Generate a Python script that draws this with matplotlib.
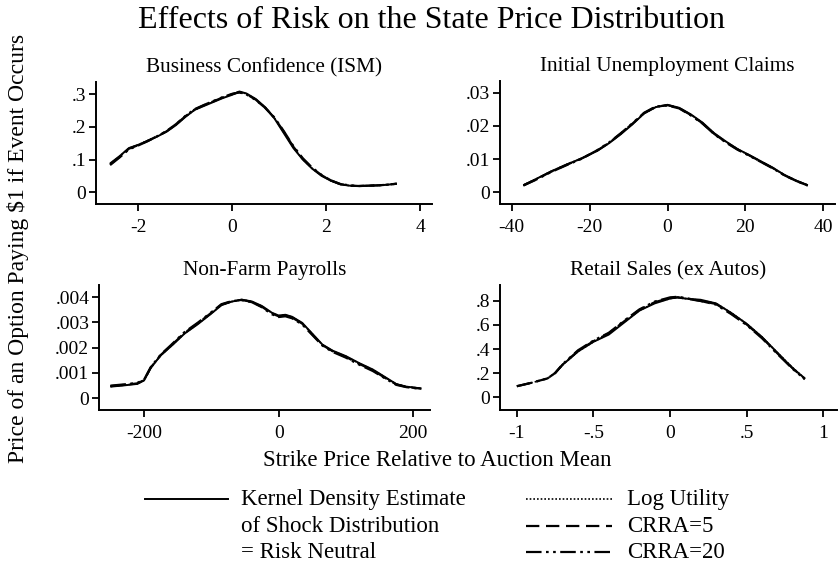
import matplotlib
matplotlib.use("Agg")
import matplotlib.pyplot as plt
import numpy as np
from matplotlib.lines import Line2D

plt.rcParams["font.family"] = ["Liberation Serif", "DejaVu Serif"]

W, H = 840, 568

# Business Confidence (ISM)
ism_x = [-2.6, -2.4, -2.2, -2.0, -1.8, -1.6, -1.4, -1.2, -1.0, -0.8, -0.6, -0.4, -0.2, 0.0,
         0.15, 0.3, 0.5, 0.7, 0.9, 1.1, 1.3, 1.5, 1.7, 1.9, 2.1, 2.3, 2.5, 2.7, 2.9, 3.1, 3.3, 3.5]
ism_rn = [0.088, 0.11, 0.135, 0.145, 0.157, 0.17, 0.185, 0.205, 0.23, 0.252, 0.264, 0.276, 0.288, 0.298,
          0.308, 0.302, 0.285, 0.26, 0.225, 0.18, 0.135, 0.1, 0.072, 0.05, 0.035, 0.024, 0.02, 0.019, 0.02, 0.021, 0.023, 0.026]
ism_log = [0.086, 0.109, 0.134, 0.145, 0.158, 0.171, 0.186, 0.206, 0.231, 0.252, 0.265, 0.277, 0.289, 0.299,
           0.307, 0.301, 0.284, 0.259, 0.226, 0.182, 0.137, 0.101, 0.073, 0.051, 0.035, 0.024, 0.02, 0.019, 0.02, 0.021, 0.023, 0.026]
ism_crra5 = [0.085, 0.108, 0.133, 0.144, 0.157, 0.171, 0.186, 0.207, 0.232, 0.253, 0.266, 0.278, 0.29, 0.3,
             0.306, 0.3, 0.283, 0.258, 0.227, 0.184, 0.139, 0.102, 0.074, 0.052, 0.036, 0.025, 0.02, 0.019, 0.02, 0.021, 0.023, 0.026]
ism_crra20 = [0.083, 0.106, 0.131, 0.143, 0.156, 0.171, 0.187, 0.208, 0.233, 0.254, 0.267, 0.279, 0.291, 0.301,
              0.305, 0.299, 0.282, 0.258, 0.228, 0.186, 0.141, 0.104, 0.075, 0.053, 0.036, 0.025, 0.021, 0.019, 0.02, 0.021, 0.023, 0.026]

# Initial Unemployment Claims
ic_x = [-37, -34, -30, -26, -22, -18, -15, -12, -9, -6, -3, 0, 3, 6, 9, 12, 15, 18, 21, 24, 27, 30, 33, 36]
ic_rn = [0.0021, 0.0038, 0.0062, 0.0083, 0.0102, 0.0125, 0.0148, 0.0175, 0.0205, 0.0238, 0.0257, 0.0264,
         0.0255, 0.0235, 0.021, 0.0178, 0.0153, 0.013, 0.0112, 0.0093, 0.0074, 0.0052, 0.0035, 0.0021]
ic_log = [0.0021, 0.0038, 0.0062, 0.0083, 0.0102, 0.0126, 0.0149, 0.0176, 0.0206, 0.0238, 0.0257, 0.0263,
          0.0254, 0.0234, 0.0209, 0.0177, 0.0152, 0.013, 0.0111, 0.0092, 0.0073, 0.0052, 0.0035, 0.0021]
ic_crra5 = [0.002, 0.0037, 0.0061, 0.0082, 0.0102, 0.0126, 0.0149, 0.0177, 0.0207, 0.0239, 0.0258, 0.0263,
            0.0254, 0.0233, 0.0208, 0.0176, 0.0151, 0.0129, 0.0111, 0.0092, 0.0073, 0.0051, 0.0034, 0.002]
ic_crra20 = [0.002, 0.0036, 0.006, 0.0081, 0.0101, 0.0127, 0.015, 0.0178, 0.0208, 0.024, 0.0259, 0.0262,
             0.0253, 0.0232, 0.0207, 0.0175, 0.015, 0.0128, 0.011, 0.0091, 0.0072, 0.0051, 0.0034, 0.002]

# Non-Farm Payrolls
nfp_x = [-250, -230, -210, -200, -190, -175, -160, -140, -120, -100, -85, -70, -55, -40, -25, -10, 0, 10,
         20, 35, 50, 65, 80, 100, 120, 140, 160, 175, 190, 212]
nfp_rn = [0.00045, 0.0005, 0.00056, 0.0007, 0.0012, 0.0017, 0.00205, 0.00255, 0.00293, 0.00335, 0.00368,
          0.00382, 0.0039, 0.00383, 0.00365, 0.00338, 0.00327, 0.0033, 0.00322, 0.00298, 0.00255, 0.00212,
          0.00188, 0.00166, 0.00138, 0.00113, 0.0008, 0.00055, 0.00045, 0.00038]
nfp_log = [0.00046, 0.00051, 0.00057, 0.0007, 0.0012, 0.0017, 0.00206, 0.00256, 0.00294, 0.00336, 0.00369,
           0.00382, 0.0039, 0.00382, 0.00364, 0.00337, 0.00326, 0.00329, 0.00321, 0.00297, 0.00254, 0.00211,
           0.00187, 0.00165, 0.00137, 0.00112, 0.00079, 0.00055, 0.00045, 0.00038]
nfp_crra5 = [0.00047, 0.00052, 0.00058, 0.00071, 0.00121, 0.00171, 0.00207, 0.00258, 0.00296, 0.00338, 0.0037,
             0.00383, 0.00389, 0.00381, 0.00362, 0.00335, 0.00324, 0.00327, 0.00319, 0.00295, 0.00252, 0.0021,
             0.00186, 0.00163, 0.00135, 0.0011, 0.00077, 0.00054, 0.00044, 0.00037]
nfp_crra20 = [0.00049, 0.00054, 0.0006, 0.00073, 0.00123, 0.00173, 0.0021, 0.00261, 0.00299, 0.0034, 0.00372,
              0.00384, 0.00388, 0.0038, 0.0036, 0.00332, 0.00321, 0.00324, 0.00316, 0.00292, 0.0025, 0.00208,
              0.00183, 0.0016, 0.00132, 0.00107, 0.00075, 0.00052, 0.00043, 0.00036]

# Retail Sales (ex Autos)
rs_x = [-1.0, -0.9, -0.8, -0.75, -0.7, -0.6, -0.5, -0.4, -0.3, -0.2, -0.1, 0.0, 0.05, 0.1, 0.2, 0.3,
        0.4, 0.5, 0.6, 0.7, 0.8, 0.88]
rs_rn = [np.nan, np.nan, np.nan, 0.2, 0.27, 0.38, 0.46, 0.52, 0.62, 0.72, 0.78, 0.82, 0.83, 0.82, 0.81,
         0.78, 0.70, 0.61, 0.5, 0.37, 0.24, 0.155]
rs_log = [0.09, 0.12, 0.155, 0.2, 0.27, 0.38, 0.46, 0.525, 0.625, 0.72, 0.785, 0.82, 0.83, 0.82, 0.805,
          0.78, 0.70, 0.61, 0.5, 0.37, 0.245, 0.155]
rs_crra5 = [0.09, 0.12, 0.155, 0.2, 0.272, 0.385, 0.465, 0.53, 0.63, 0.725, 0.79, 0.825, 0.83, 0.82, 0.8,
            0.775, 0.695, 0.605, 0.495, 0.365, 0.24, 0.15]
rs_crra20 = [0.09, 0.12, 0.155, 0.2, 0.275, 0.39, 0.47, 0.535, 0.635, 0.73, 0.795, 0.83, 0.835, 0.825, 0.8,
             0.77, 0.69, 0.6, 0.49, 0.36, 0.235, 0.148]

panels = [
    ("Business Confidence (ISM)", ism_x, [ism_rn, ism_log, ism_crra5, ism_crra20],
     (-2.9, 4.25), (-0.036, 0.337), [-2, 0, 2, 4], ["-2", "0", "2", "4"],
     [0, 0.1, 0.2, 0.3], ["0", ".1", ".2", ".3"], (96, 82, 432, 204)),
    ("Initial Unemployment Claims", ic_x, [ic_rn, ic_log, ic_crra5, ic_crra20],
     (-43, 43), (-0.0036, 0.0336), [-40, -20, 0, 20, 40], ["-40", "-20", "0", "20", "40"],
     [0, 0.01, 0.02, 0.03], ["0", ".01", ".02", ".03"], (500, 81, 835, 204)),
    ("Non-Farm Payrolls", nfp_x, [nfp_rn, nfp_log, nfp_crra5, nfp_crra20],
     (-267, 225), (-0.000475, 0.00448), [-200, 0, 200], ["-200", "0", "200"],
     [0, 0.001, 0.002, 0.003, 0.004], ["0", ".001", ".002", ".003", ".004"], (99, 285, 430, 410)),
    ("Retail Sales (ex Autos)", rs_x, [rs_rn, rs_log, rs_crra5, rs_crra20],
     (-1.11, 1.09), (-0.108, 0.933), [-1, -0.5, 0, 0.5, 1], ["-1", "-.5", "0", ".5", "1"],
     [0, 0.2, 0.4, 0.6, 0.8], ["0", ".2", ".4", ".6", ".8"], (500, 285, 837, 410)),
]

styles = [
    dict(linestyle="-", linewidth=1.4),
    dict(linestyle=(0, (1, 1.2)), linewidth=1.2),
    dict(linestyle=(0, (6, 3)), linewidth=1.6),
    dict(linestyle=(0, (7, 2, 1.2, 2, 1.2, 2)), linewidth=1.6),
]


def px_box(x0, y0, x1, y1):
    return [x0 / W, 1 - y1 / H, (x1 - x0) / W, (y1 - y0) / H]


fig = plt.figure(figsize=(W / 100, H / 100), dpi=100)

for title, xs, series, xlim, ylim, xt, xtl, yt, ytl, box in panels:
    ax = fig.add_axes(px_box(*box))
    for ys, st in zip(series[::-1], styles[::-1]):
        ax.plot(xs, ys, color="black", solid_capstyle="butt", **st)
    ax.set_xlim(*xlim)
    ax.set_ylim(*ylim)
    ax.set_xticks(xt)
    ax.set_xticklabels(xtl)
    ax.set_yticks(yt)
    ax.set_yticklabels(ytl)
    ax.spines["top"].set_visible(False)
    ax.spines["right"].set_visible(False)
    for s in ("left", "bottom"):
        ax.spines[s].set_linewidth(1.4)
    ax.tick_params(direction="out", length=5, width=1.3, labelsize=14)
    ax.tick_params(axis="x", pad=6)
    ax.tick_params(axis="y", pad=2)
    ax.set_title(title, fontsize=15.3, pad=7)

fig.text(432 / W, 1 - 21 / H, "Effects of Risk on the State Price Distribution",
         ha="center", va="center", fontsize=23)
fig.text(18 / W, 1 - 248 / H, "Price of an Option Paying $1 if Event Occurs",
         ha="center", va="center", rotation=90, fontsize=17)
fig.text(437 / W, 1 - 461 / H, "Strike Price Relative to Auction Mean",
         ha="center", va="center", fontsize=16.5)

# legend drawn by hand, Stata-style
leg_rows = [499, 526, 552]
fig.add_artist(Line2D([145 / W, 228 / W], [1 - leg_rows[0] / H] * 2, transform=fig.transFigure,
                      color="black", **styles[0]))
for txt, yy in zip(["Kernel Density Estimate", "of Shock Distribution", "= Risk Neutral"], leg_rows):
    fig.text(241 / W, 1 - yy / H, txt, ha="left", va="center", fontsize=16.5)
for st, txt, yy in zip(styles[1:], ["Log Utility", "CRRA=5", "CRRA=20"], leg_rows):
    fig.add_artist(Line2D([526 / W, 612 / W], [1 - yy / H] * 2, transform=fig.transFigure,
                          color="black", **st))
    fig.text(627 / W, 1 - yy / H, txt, ha="left", va="center", fontsize=16.5)

fig.savefig("out.png", dpi=100)
